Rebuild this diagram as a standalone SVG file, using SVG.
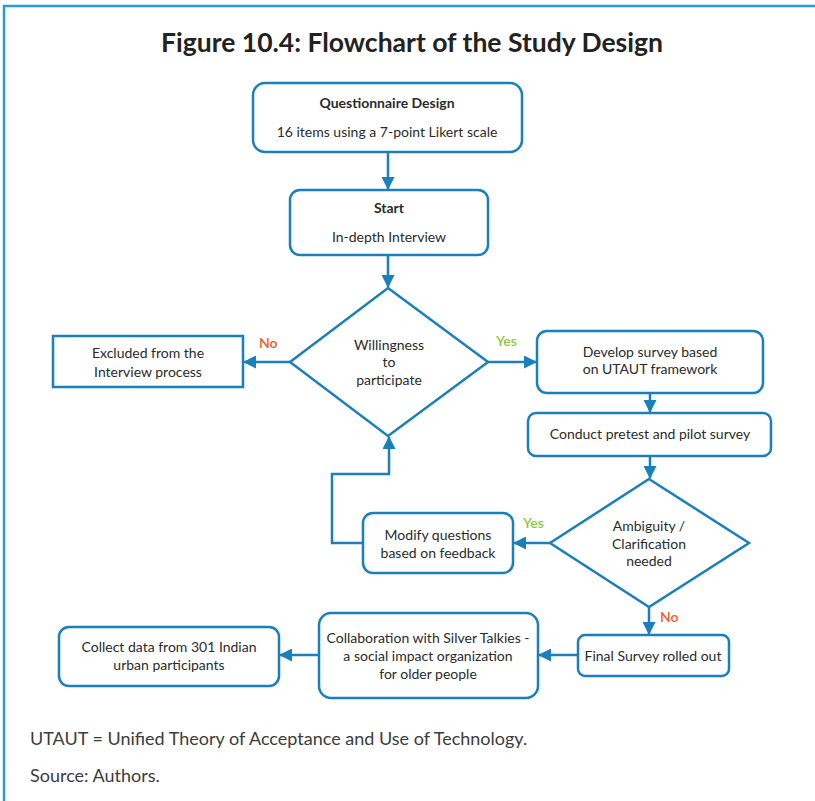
<svg xmlns="http://www.w3.org/2000/svg" width="815" height="801" viewBox="0 0 815 801">
<defs>
<style>
.frame{fill:none;stroke:#2a9ad8;stroke-width:2.5}
.box{fill:#fff;stroke:#1a7fbc;stroke-width:2.5}
.ln{fill:none;stroke:#1a7fbc;stroke-width:2.5}
.t{font-family:Lato,"Noto Sans",sans-serif;font-size:14px;fill:#2b2b2b;text-anchor:middle}
.b{font-weight:bold}
.no{font-family:Lato,"Noto Sans",sans-serif;font-size:14px;font-weight:600;fill:#f15a29}
.yes{font-family:Lato,"Noto Sans",sans-serif;font-size:14px;font-weight:600;fill:#8cc63f}
.title{font-family:Lato,"Noto Sans",sans-serif;font-size:26.5px;font-weight:bold;fill:#222;text-anchor:middle}
.note{font-family:Lato,"Noto Sans",sans-serif;font-size:18px;font-weight:400;fill:#3c3c3c}
</style>
<marker id="ah" markerWidth="13" markerHeight="13" refX="12" refY="6.5" orient="auto" markerUnits="userSpaceOnUse" viewBox="0 0 13 13">
<path d="M0,0 L13,6.5 L0,13 z" fill="#1a7fbc"/>
</marker>
</defs>
<rect width="815" height="801" fill="#fff"/>
<path class="frame" d="M4,801 V6 H815"/>
<text class="title" x="412" y="52">Figure 10.4: Flowchart of the Study Design</text>

<g id="connectors">
<line class="ln" x1="388" y1="152" x2="388" y2="189" marker-end="url(#ah)"/>
<line class="ln" x1="388" y1="255" x2="388" y2="287" marker-end="url(#ah)"/>
<line class="ln" x1="290" y1="362" x2="244" y2="362" marker-end="url(#ah)"/>
<line class="ln" x1="488" y1="362" x2="536" y2="362" marker-end="url(#ah)"/>
<line class="ln" x1="650" y1="393" x2="650" y2="412" marker-end="url(#ah)"/>
<line class="ln" x1="650" y1="456" x2="650" y2="478" marker-end="url(#ah)"/>
<line class="ln" x1="550" y1="543" x2="514" y2="543" marker-end="url(#ah)"/>
<polyline class="ln" points="363,543 332,543 332,474 389,474 389,437" marker-end="url(#ah)"/>
<line class="ln" x1="649" y1="607" x2="649" y2="634" marker-end="url(#ah)"/>
<line class="ln" x1="578" y1="655" x2="539" y2="655" marker-end="url(#ah)"/>
<line class="ln" x1="319" y1="655" x2="280" y2="655" marker-end="url(#ah)"/>
<text class="no" x="259" y="348">No</text>
<text class="yes" x="496" y="346">Yes</text>
<text class="yes" x="523" y="528">Yes</text>
<text class="no" x="660" y="622">No</text>
</g>

<g id="questionnaire">
<rect class="box" x="253" y="83" width="269" height="69" rx="12"/>
<text class="t b" x="387" y="108">Questionnaire Design</text>
<text class="t" x="387" y="137">16 items using a 7-point Likert scale</text>
</g>

<g id="start">
<rect class="box" x="290" y="190" width="198" height="65" rx="10"/>
<text class="t b" x="389" y="213">Start</text>
<text class="t" x="389" y="242">In-depth Interview</text>
</g>

<g id="willingness">
<polygon class="box" points="388,288 488,362 388,436 290,362"/>
<text class="t" x="389" y="350">Willingness</text>
<text class="t" x="389" y="367">to</text>
<text class="t" x="389" y="385">participate</text>
</g>

<g id="excluded">
<rect class="box" x="53" y="336" width="190" height="51"/>
<text class="t" x="148" y="358">Excluded from the</text>
<text class="t" x="148" y="377">Interview process</text>
</g>

<g id="develop">
<rect class="box" x="537" y="331" width="226" height="62" rx="10"/>
<text class="t" x="650" y="357">Develop survey based</text>
<text class="t" x="650" y="374">on UTAUT framework</text>
</g>

<g id="conduct">
<rect class="box" x="528" y="413" width="243" height="43" rx="8"/>
<text class="t" x="650" y="439">Conduct pretest and pilot survey</text>
</g>

<g id="ambiguity">
<polygon class="box" points="649,479 749,543 649,607 550,543"/>
<text class="t" x="649" y="531">Ambiguity /</text>
<text class="t" x="649" y="549">Clarification</text>
<text class="t" x="649" y="566">needed</text>
</g>

<g id="modify">
<rect class="box" x="363" y="513" width="150" height="60" rx="10"/>
<text class="t" x="438" y="540">Modify questions</text>
<text class="t" x="438" y="558">based on feedback</text>
</g>

<g id="final">
<rect class="box" x="578" y="635" width="151" height="41" rx="7"/>
<text class="t" x="653" y="661">Final Survey rolled out</text>
</g>

<g id="collaboration">
<rect class="box" x="319" y="613" width="219" height="85" rx="12"/>
<text class="t" x="428" y="643">Collaboration with Silver Talkies -</text>
<text class="t" x="428" y="661">a social impact organization</text>
<text class="t" x="428" y="679">for older people</text>
</g>

<g id="collect">
<rect class="box" x="59" y="627" width="220" height="59" rx="10"/>
<text class="t" x="169" y="652">Collect data from 301 Indian</text>
<text class="t" x="169" y="670">urban participants</text>
</g>

<text class="note" x="30" y="745">UTAUT = Unified Theory of Acceptance and Use of Technology.</text>
<text class="note" x="30" y="782">Source: Authors.</text>
</svg>
